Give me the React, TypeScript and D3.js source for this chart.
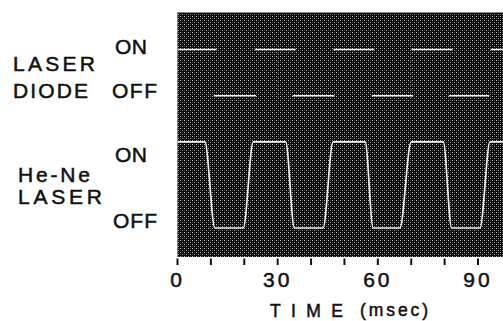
import React from "react";
import * as d3 from "d3";

// Time axis (msec)
const tickValues = [0, 10, 20, 30, 40, 50, 60, 70, 80, 90];
const tickLabels = [0, 30, 60, 90];

// Laser diode: ON / OFF segments (msec)
const ldOnStart = [0.2, 23.2, 46.7, 70.1, 93.8];
const ldOnEnd = [11.7, 35.4, 58.9, 82.4, 99];
const ldOffStart = [10.9, 34.5, 58.2, 81.3];
const ldOffEnd = [23.5, 47.0, 70.6, 93.4];

// He-Ne laser trace: time (msec) and level (1 = ON, 0 = OFF)
const heneTime = [0, 8.2, 11.2, 19.7, 22.7, 32.4, 35.0, 43.6, 46.6, 56.2, 58.6, 66.6, 70.0, 79.6, 82.1, 90.6, 93.6, 99];
const heneLevel = [1, 1, 0, 0, 1, 1, 0, 0, 1, 1, 0, 0, 1, 1, 0, 0, 1, 1];

const W = 503;
const H = 321;
const panelLeft = 177.5;
const panelTop = 12;
const panelBottom = 257;

const font = "'Liberation Sans', Arial, sans-serif";

export default function App() {
  const x = d3.scaleLinear().domain([0, 90]).range([177.5, 478]);
  const yLD = d3.scaleLinear().domain([0, 1]).range([95.7, 49.5]);
  const yHN = d3.scaleLinear().domain([0, 1]).range([228, 141.8]);

  const heneLine = d3
    .line<number>()
    .x((_, i) => x(heneTime[i]))
    .y((d) => yHN(d))
    .curve(d3.curveMonotoneX);

  const textStyle: React.CSSProperties = {
    fontFamily: font,
    fill: "#111",
    stroke: "#111",
    strokeWidth: 0.5,
  };

  const leftLabels = [
    { t: "ON", x: 115, y: 54, w: 32 },
    { t: "LASER", x: 13, y: 70.7, w: 82 },
    { t: "DIODE", x: 13, y: 98, w: 75 },
    { t: "OFF", x: 112, y: 98, w: 45 },
    { t: "ON", x: 115, y: 162, w: 32 },
    { t: "He-Ne", x: 18, y: 182, w: 72 },
    { t: "LASER", x: 18, y: 204, w: 84 },
    { t: "OFF", x: 113, y: 228, w: 44 },
  ];

  return (
    <svg
      width={W}
      height={H}
      style={{ position: "absolute", left: 0, top: 0, background: "#fff" }}
    >
      <defs>
        <pattern id="halftone" width="4" height="4" patternUnits="userSpaceOnUse">
          <rect width="4" height="4" fill="#060606" />
          <rect x="0" y="0" width="1" height="1" fill="#c0c0c0" />
          <rect x="2" y="2" width="1" height="1" fill="#a0a0a0" />
          <rect x="2" y="0" width="1" height="1" fill="#4a4a4a" />
          <rect x="0" y="2" width="1" height="1" fill="#404040" />
        </pattern>
        <clipPath id="panelClip">
          <rect x={panelLeft} y={panelTop} width={W - panelLeft} height={panelBottom - panelTop} />
        </clipPath>
      </defs>

      <rect
        x={panelLeft}
        y={panelTop}
        width={W - panelLeft}
        height={panelBottom - panelTop}
        fill="url(#halftone)"
      />
      <line x1={panelLeft} x2={W} y1={panelTop + 0.5} y2={panelTop + 0.5} stroke="#888" strokeWidth={1} />

      <g clipPath="url(#panelClip)">
        {[30, 70].map((v) => (
          <line
            key={"g" + v}
            x1={x(v)}
            x2={x(v)}
            y1={45}
            y2={100}
            stroke="#bbb"
            strokeWidth={1}
            strokeDasharray="1 3"
            opacity={0.5}
          />
        ))}
        {ldOnStart.map((s, i) => (
          <line
            key={"on" + i}
            x1={x(s)}
            x2={x(ldOnEnd[i])}
            y1={yLD(1)}
            y2={yLD(1)}
            stroke="#f2f2f2"
            strokeWidth={1.6}
          />
        ))}
        {ldOffStart.map((s, i) => (
          <line
            key={"off" + i}
            x1={x(s)}
            x2={x(ldOffEnd[i])}
            y1={yLD(0)}
            y2={yLD(0)}
            stroke="#f2f2f2"
            strokeWidth={1.6}
          />
        ))}
        <path d={heneLine(heneLevel) || ""} fill="none" stroke="#f2f2f2" strokeWidth={1.7} />
      </g>

      {tickValues.map((v) => (
        <line
          key={"t" + v}
          x1={x(v)}
          x2={x(v)}
          y1={258.5}
          y2={265}
          stroke="#111"
          strokeWidth={2}
        />
      ))}
      {tickLabels.map((v) => (
        <text
          key={"l" + v}
          x={x(v)}
          y={287}
          textAnchor="middle"
          fontSize={21}
          letterSpacing={3}
          style={textStyle}
        >
          {v}
        </text>
      ))}

      <text x={270} y={317} fontSize={17.5} textLength={73} lengthAdjust="spacing" style={textStyle}>
        TIME
      </text>
      <text x={360} y={316} fontSize={17.5} textLength={68} lengthAdjust="spacing" style={textStyle}>
        (msec)
      </text>

      {leftLabels.map((l, i) => (
        <text
          key={"ll" + i}
          x={l.x}
          y={l.y}
          fontSize={21}
          textLength={l.w}
          lengthAdjust="spacing"
          style={textStyle}
        >
          {l.t}
        </text>
      ))}
    </svg>
  );
}
